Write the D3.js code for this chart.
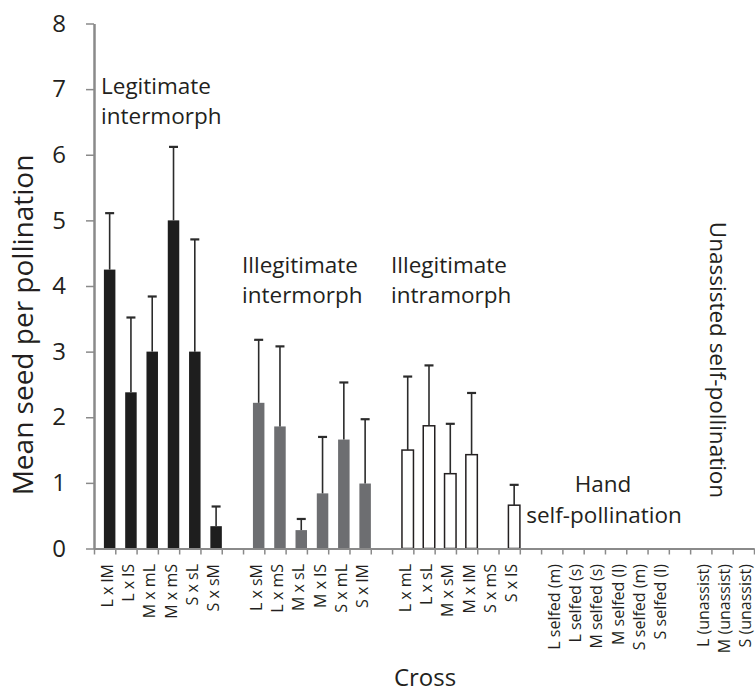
<html>
<head>
<meta charset="utf-8">
<script src="https://d3js.org/d3.v7.min.js"></script>
<style>
  body { margin: 0; background: #fff; }
  text { font-family: "Open Sans", sans-serif; fill: #231f20; }
</style>
</head>
<body>
<script>
// data
var legitLabels = ["L x lM", "L x lS", "M x mL", "M x mS", "S x sL", "S x sM"];
var legitMeans  = [4.25, 2.38, 3.0, 5.0, 3.0, 0.34];
var legitSE     = [0.86, 1.14, 0.84, 1.12, 1.71, 0.30];

var illInterLabels = ["L x sM", "L x mS", "M x sL", "M x lS", "S x mL", "S x lM"];
var illInterMeans  = [2.22, 1.86, 0.28, 0.84, 1.66, 0.99];
var illInterSE     = [0.96, 1.22, 0.17, 0.86, 0.87, 0.98];

var illIntraLabels = ["L x mL", "L x sL", "M x sM", "M x lM", "S x mS", "S x lS"];
var illIntraMeans  = [1.50, 1.87, 1.14, 1.43, 0, 0.66];
var illIntraSE     = [1.12, 0.92, 0.76, 0.94, 0, 0.31];

var handLabels = ["L selfed (m)", "L selfed (s)", "M selfed (s)", "M selfed (l)", "S selfed (m)", "S selfed (l)"];
var handMeans  = [0, 0, 0, 0, 0, 0];

var unassistLabels = ["L (unassist)", "M (unassist)", "S (unassist)"];
var unassistMeans  = [0, 0, 0];

var yTicks = [0, 1, 2, 3, 4, 5, 6, 7, 8];

// layout
var W = 755, H = 695;
var plot = {left: 94, right: 754, top: 23.5, bottom: 548.5};

var svg = d3.select("body").append("svg")
  .attr("width", W).attr("height", H);

// build one category list, a blank slot between groups
var cats = [];
function addGroup(labels, means, se, fill) {
  if (cats.length) cats.push(null);
  labels.forEach(function(l, i) {
    cats.push({label: l, mean: means[i], se: se ? se[i] : 0, fill: fill});
  });
}
addGroup(legitLabels, legitMeans, legitSE, "#1e1e1e");
addGroup(illInterLabels, illInterMeans, illInterSE, "#6d6e71");
addGroup(illIntraLabels, illIntraMeans, illIntraSE, "#ffffff");
addGroup(handLabels, handMeans, null, "#ffffff");
addGroup(unassistLabels, unassistMeans, null, "#ffffff");

var x = d3.scaleBand().domain(d3.range(cats.length)).range([plot.left, plot.right]);
var xTickScale = d3.scaleLinear().domain([0, cats.length]).range([plot.left, plot.right]);
var y = d3.scaleLinear().domain([0, 8]).range([plot.bottom, plot.top]);

var bw = x.bandwidth();
var barW = bw * 0.54;
var barShift = 5;

var items = cats.map(function(c, i) { return c ? Object.assign({i: i}, c) : null; }).filter(d => d);
var bars = items.filter(d => d.mean > 0);

// bars
svg.append("g").selectAll("rect")
  .data(bars).join("rect")
    .attr("x", d => x(d.i) + bw / 2 - barW / 2 + barShift)
    .attr("y", d => y(d.mean))
    .attr("width", barW)
    .attr("height", d => y(0) - y(d.mean))
    .attr("fill", d => d.fill)
    .attr("stroke", d => d.fill == "#ffffff" ? "#231f20" : "none")
    .attr("stroke-width", 1.5);

// error bars (upper only)
var err = svg.append("g").attr("stroke", "#2b2b2b").attr("stroke-width", 1.6);
var errs = bars.filter(d => d.se > 0);
var cx = d => x(d.i) + bw / 2 + barShift;
err.selectAll("line.v").data(errs).join("line").attr("class", "v")
  .attr("x1", cx).attr("x2", cx)
  .attr("y1", d => y(d.mean)).attr("y2", d => y(d.mean + d.se));
err.selectAll("line.c").data(errs).join("line").attr("class", "c")
  .attr("x1", d => cx(d) - 4.5).attr("x2", d => cx(d) + 4.5)
  .attr("y1", d => y(d.mean + d.se)).attr("y2", d => y(d.mean + d.se))
  .attr("stroke-width", 2.2);

// axes
var yAxis = svg.append("g")
  .attr("transform", "translate(" + plot.left + ",0)")
  .call(d3.axisLeft(y).tickValues(yTicks).tickSize(8).tickSizeOuter(0).tickPadding(20));
yAxis.select(".domain").attr("stroke", "#8a8a8a").attr("stroke-width", 2.5);
yAxis.selectAll(".tick line").attr("stroke", "#8a8a8a").attr("stroke-width", 1.5);
yAxis.selectAll(".tick text").attr("font-size", 24).attr("font-family", "Open Sans").attr("fill", "#231f20");

var xAxis = svg.append("g")
  .attr("transform", "translate(0," + plot.bottom + ")")
  .call(d3.axisBottom(xTickScale).tickValues(d3.range(cats.length + 1)).tickSize(6).tickSizeOuter(0).tickFormat(""));
xAxis.select(".domain").attr("stroke", "#8a8a8a").attr("stroke-width", 2);
xAxis.selectAll(".tick line").attr("stroke", "#8a8a8a").attr("stroke-width", 1.5);

// category labels
svg.append("g").selectAll("text")
  .data(items).join("text")
    .attr("transform", d => "translate(" + (x(d.i) + bw / 2 + 8) + ",564) rotate(-90)")
    .attr("text-anchor", "end")
    .attr("font-size", 16)
    .text(d => d.label);

// axis titles
svg.append("text")
  .attr("transform", "translate(33,325) rotate(-90)")
  .attr("text-anchor", "middle")
  .attr("font-size", 28)
  .text("Mean seed per pollination");

svg.append("text")
  .attr("x", 425).attr("y", 686)
  .attr("text-anchor", "middle")
  .attr("font-size", 24)
  .text("Cross");

// group annotations
function note(lines, xx, yy, anchor) {
  var t = svg.append("text").attr("font-size", 22.5).attr("text-anchor", anchor || "start");
  lines.forEach(function(l, k) {
    t.append("tspan").attr("x", xx).attr("y", yy + k * 30).text(l);
  });
}
note(["Legitimate", "intermorph"], 101, 94);
note(["Illegitimate", "intermorph"], 242, 273);
note(["Illegitimate", "intramorph"], 391, 273);
note(["Hand"], 603, 492, "middle");
note(["self-pollination"], 604, 523, "middle");

svg.append("text")
  .attr("transform", "translate(710,360) rotate(90)")
  .attr("text-anchor", "middle")
  .attr("font-size", 22.5)
  .text("Unassisted self-pollination");
</script>
</body>
</html>
